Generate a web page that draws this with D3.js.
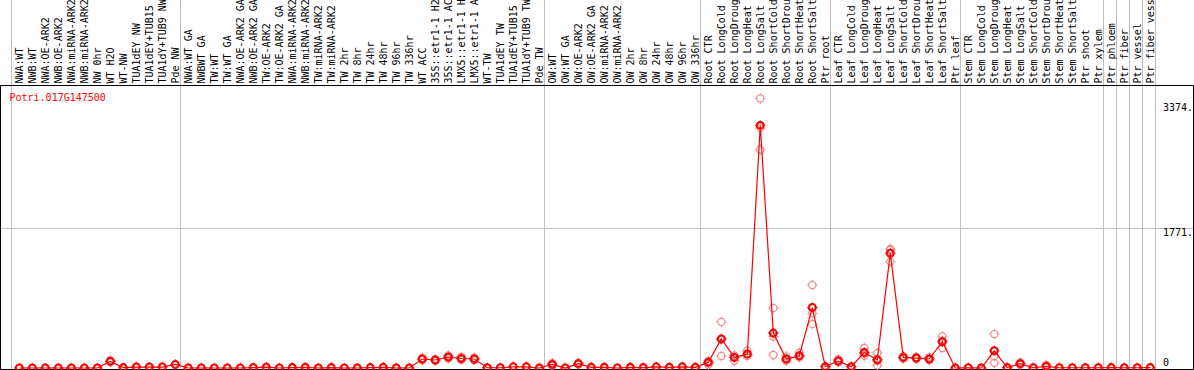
<!DOCTYPE html>
<html><head><meta charset="utf-8">
<script src="https://cdn.jsdelivr.net/npm/d3@7"></script>
<style>
body{margin:0;background:#fff}
svg{display:block}
text{font-family:"DejaVu Sans Mono",monospace;font-size:10px}
</style>
</head><body>
<svg id="c" width="1194" height="370"></svg>
<script>
const geneId = "Potri.017G147500";

const categories = [
  "NWA:WT","NWB:WT","NWA:OE-ARK2","NWB:OE-ARK2","NWA:miRNA-ARK2","NWB:miRNA-ARK2",
  "NW 0hr","WT H2O","WT-NW","TUA1dEY NW","TUA1dEY+TUB15","TUA1dY+TUB9 NW","Pde NW",
  "NWA:WT GA","NWBWT GA","TW:WT","TW:WT GA","NWA:OE-ARK2 GA","NWB:OE-ARK2 GA",
  "TW:OE-ARK2","TW:OE-ARK2 GA","NWA:miRNA-ARK2","NWB:miRNA-ARK2","TW:miRNA-ARK2",
  "TW:miRNA-ARK2","TW 2hr","TW 8hr","TW 24hr","TW 48hr","TW 96hr","TW 336hr","WT ACC",
  "35S::etr1-1 H2O","35S::etr1-1 ACC","LMX5::etr1-1 H2O","LMX5::etr1-1 ACC","WT-TW",
  "TUA1dEY TW","TUA1dEY+TUB15 TW","TUA1dY+TUB9 TW","Pde TW",
  "OW:WT","OW:WT GA","OW:OE-ARK2","OW:OE-ARK2 GA","OW:miRNA-ARK2","OW:miRNA-ARK2",
  "OW 2hr","OW 8hr","OW 24hr","OW 48hr","OW 96hr","OW 336hr",
  "Root CTR","Root LongCold","Root LongDrought","Root LongHeat","Root LongSalt",
  "Root ShortCold","Root ShortDrought","Root ShortHeat","Root ShortSalt","Ptr root",
  "Leaf CTR","Leaf LongCold","Leaf LongDrought","Leaf LongHeat","Leaf LongSalt",
  "Leaf ShortCold","Leaf ShortDrought","Leaf ShortHeat","Leaf ShortSalt","Ptr leaf",
  "Stem CTR","Stem LongCold","Stem LongDrought","Stem LongHeat","Stem LongSalt",
  "Stem ShortCold","Stem ShortDrought","Stem ShortHeat","Stem ShortSalt","Ptr shoot",
  "Ptr xylem","Ptr phloem","Ptr fiber","Ptr vessel","Ptr fiber vessel"
];

// category indices where a group separator line is drawn
const groupBreaks = [0, 13, 41, 53, 63, 73, 84, 85, 86, 87, 88];

// mean expression per category
const means = [
  0,0,0,0,0,0, 0,84,5,12,12,12,45,
  0,0,0,0,0,5, 10,0,5,8,0, 5,0,0,5,8,0,0,114,
  101,139,120,114,3, 3,15,15,0,
  45,0,55,8,8,0, 8,5,15,8,15,8,
  71,367,134,177,3069, 442,114,155,765,17,
  88,17,197,105,1452, 134,126,114,332,0,
  3,0,218,5,55, 3,20,3,3,3,
  3,5,3,3,5
];

// individual replicate values (category index, value)
const repIndex = [
  7,7, 31,31, 32,32, 33,33, 34,34, 35,35, 41,41, 43,43,
  53,53, 54,54,54, 55,55, 56,56, 57,57,57, 58,58,58, 59,59, 60,60, 61,61,61,
  63,63, 65,65,65, 66,66,66, 67,67,67, 68,68, 69,69, 70,70, 71,71,71,
  75,75,75, 77,77, 79,79
];
const repValue = [
  95,75, 100,128, 90,112, 160,120, 140,105, 130,100, 60,30, 65,45,
  40,90, 582,152,367, 92,160, 219,150, 3410,2762,3035, 758,399,164, 92,147, 193,134, 1050,555,690,
  110,72, 253,155,183, 190,33,92, 1506,1346,1494, 150,118, 140,115, 135,100, 399,253,344,
  429,63,147, 70,40, 40,10
];

const yMax = 3542.7;
const yTickValues = [0, 1771, 3374];
const yTickLabels = ["0", "1771.", "3374."];

const W = 1194, H = 370;
const svg = d3.select("#c");

const x = d3.scaleBand().domain(d3.range(categories.length)).range([11, 1155]).paddingInner(0).paddingOuter(0);
const y = d3.scaleLinear().domain([0, yMax]).range([368, 88]);
const px = i => x(i) + 8.3;

// vertical gridlines
svg.append("g").selectAll("line").data(groupBreaks).join("line")
  .attr("x1", d => (d < categories.length ? x(d) : x.range()[1]) + 0.5)
  .attr("x2", d => (d < categories.length ? x(d) : x.range()[1]) + 0.5)
  .attr("y1", 0).attr("y2", H)
  .attr("stroke", "#c0c0c0").attr("stroke-width", 1);

// horizontal gridline at the middle tick
svg.append("line")
  .attr("x1", 0).attr("x2", W)
  .attr("y1", Math.round(y(yTickValues[1])) + 0.5).attr("y2", Math.round(y(yTickValues[1])) + 0.5)
  .attr("stroke", "#c0c0c0");

// frame
svg.append("line").attr("x1", 0).attr("x2", W).attr("y1", 85.5).attr("y2", 85.5).attr("stroke", "#000");
svg.append("line").attr("x1", 0).attr("x2", W).attr("y1", 369.5).attr("y2", 369.5).attr("stroke", "#000");
svg.append("line").attr("x1", 0.5).attr("x2", 0.5).attr("y1", 85).attr("y2", H).attr("stroke", "#000");
svg.append("line").attr("x1", W - 0.5).attr("x2", W - 0.5).attr("y1", 85).attr("y2", H).attr("stroke", "#000");

// category labels (vertical)
svg.append("g").selectAll("text").data(categories).join("text")
  .attr("transform", (d, i) => `translate(${x(i) + 11.8},83.5) rotate(-90)`)
  .attr("fill", "#000")
  .text(d => d);

// gene id
svg.append("text").attr("x", 9.5).attr("y", 101).attr("fill", "#ff0000").text(geneId);

// y tick labels
const yLabelOffset = [-2, 8, 9.5];
svg.append("g").selectAll("text").data(yTickValues).join("text")
  .attr("x", 1163).attr("y", (d, i) => y(d) + yLabelOffset[i])
  .attr("fill", "#000")
  .text((d, i) => yTickLabels[i]);

function marker(g, cx, cy, color, sw, r) {
  g.append("circle").attr("cx", cx).attr("cy", cy).attr("r", r)
    .attr("fill", "none").attr("stroke", color).attr("stroke-width", sw);
  const t = r + 1.6;
  [[0,-1],[0,1],[-1,0],[1,0]].forEach(([dx, dy]) => {
    g.append("line")
      .attr("x1", cx + dx * (r)).attr("y1", cy + dy * (r))
      .attr("x2", cx + dx * t).attr("y2", cy + dy * t)
      .attr("stroke", color).attr("stroke-width", 1);
  });
}

// replicates
const gRep = svg.append("g");
repIndex.forEach((ci, k) => marker(gRep, px(ci), y(repValue[k]), "#f08a8a", 1.2, 3.6));

// mean line
svg.append("path")
  .datum(means)
  .attr("fill", "none").attr("stroke", "#ff0000").attr("stroke-width", 1.2)
  .attr("d", d3.line().x((d, i) => px(i)).y(d => y(d)));

// mean markers
const gMean = svg.append("g");
means.forEach((v, i) => {
  marker(gMean, px(i), y(v), "#ff0000", 1.8, 3.6);
  gMean.append("circle").attr("cx", px(i)).attr("cy", y(v)).attr("r", 2.6)
    .attr("fill", "none").attr("stroke", "#a00000").attr("stroke-width", 0.6);
});
</script>
</body></html>
